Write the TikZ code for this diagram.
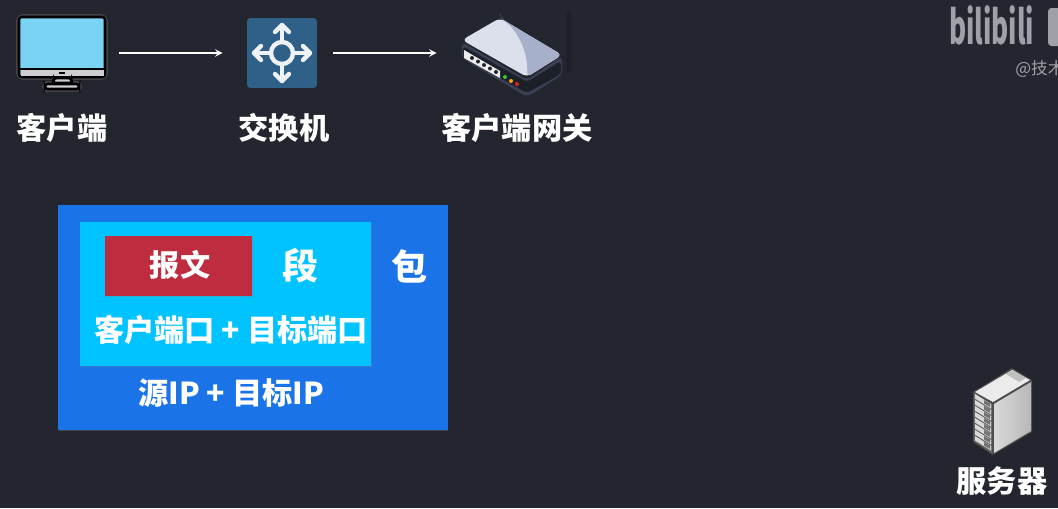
\documentclass[tikz,border=0pt]{standalone}
\usepackage{fontspec}
\setmainfont{Noto Sans CJK SC}
\usepackage{xcolor}
\usetikzlibrary{shadows}

\definecolor{bgdark}{HTML}{23252F}
\definecolor{packetblue}{HTML}{1B73E8}
\definecolor{segmentcyan}{HTML}{00C3FF}
\definecolor{messagered}{HTML}{BE2C40}
\definecolor{switchblue}{HTML}{2E6088}
\definecolor{logogray}{HTML}{A0A0A8}
\definecolor{screenblue}{HTML}{7AD3F5}
\definecolor{standgray}{HTML}{CDCDD2}
\definecolor{routerlight}{HTML}{DCE0EC}
\definecolor{routermid}{HTML}{A6B0CB}
\definecolor{routerrim}{HTML}{3B3F54}
\definecolor{routerdark}{HTML}{1E2029}

\tikzset{
  label/.style={text=white,font=\fontsize{17.2}{20}\selectfont\bfseries,inner sep=0pt},
  bigword/.style={text=white,font=\fontsize{20.5}{22}\selectfont\bfseries,inner sep=0pt},
  iconbox/.style={minimum width=#1,minimum height=1.48cm,inner sep=0pt},
  flatbox/.style={inner sep=0pt,drop shadow={shadow xshift=0.3pt,shadow yshift=-0.6pt,opacity=0.35}},
  hop/.style={->,>=stealth,line width=0.9pt,white},
  switcharrow/.style={line width=2.5pt,color=white!92!switchblue,line cap=round,line join=round},
  monitorline/.style={draw=black,line width=1.5pt,rounded corners=1.5pt},
}

\begin{document}
\begin{tikzpicture}[x=0.02cm,y=-0.02cm]

\fill[bgdark] (0,0) rectangle (1058,508);
\clip (0,0) rectangle (1058,508);

% icon nodes
\node (client) [iconbox=1.76cm] at (62,53) {};
\node (switch) [minimum size=1.4cm,inner sep=0pt,fill=switchblue,rounded corners=2pt] at (282,53) {};
\node (gateway) [iconbox=2cm] at (512,53) {};

% monitor glow
\draw[gray!55!bgdark,line width=0.6pt,rounded corners=3pt] (17,15) rectangle (107,79);
\draw[gray!55!bgdark,line width=0.6pt,rounded corners=2pt] (43,82) rectangle (81,91);
% monitor
\draw[monitorline,fill=screenblue] (19,17) rectangle (105,77);
\fill[standgray] (20.5,70) rectangle (103.5,75.5);
\draw[black,line width=1.5pt] (19,69)--(105,69);
\fill[black] (59,71.5) rectangle (65,73.5);
\draw[monitorline,fill=standgray] (54,78)--(53,83)--(72,83)--(71,78)--cycle;
\draw[monitorline,fill=standgray] (45,84) rectangle (79,89);

% switch arrows
\draw[switcharrow] (282,53) circle[radius=11];
\foreach \ang in {0,90,180,270}{
  \draw[switcharrow,rotate around={\ang:(282,53)}] (282,42)--(282,25);
  \draw[switcharrow,rotate around={\ang:(282,53)}] (275,32)--(282,25)--(289,32);
}

% router antenna
\fill[black!15!bgdark,rounded corners=2pt] (566,10) rectangle (571,72);
% router body
\fill[routerrim,rounded corners=3pt] (462,58)--(527,97)--(562,75)--(562,56)--(527,80)--(462,42)--cycle;
\fill[routerdark,rounded corners=2pt] (463,46)--(527,82)--(561,61)--(561,74)--(527,93)--(463,57)--cycle;
% router top
\fill[routerlight,rounded corners=3pt] (462,40)--(500,18)--(562,55)--(527,77)--cycle;
\fill[routermid,rounded corners=3pt] (500,18)--(562,55)--(527,77) .. controls (528,55) and (520,32) .. (500,18)--cycle;
% router ports
\fill[white!85!gray] (464,50)--(500,71)--(500,78)--(464,58)--cycle;
\foreach \k in {0,1,2,3,4}{
  \fill[bgdark] (472+\k*6,58+\k*3.5) circle[radius=2];
}
% router lights
\fill[green!60!gray] (505,77) circle[radius=2];
\fill[orange!70!yellow] (511,81) circle[radius=2];
\fill[red!70!gray] (517,84) circle[radius=2];

% connectors
\draw[hop,shorten <=13*0.02cm,shorten >=24*0.02cm] (client)--(switch);
\draw[hop,shorten <=16*0.02cm,shorten >=25*0.02cm] (switch)--(gateway);

% device labels
\node (clientname) [label] at (62,128) {客户端};
\node (switchname) [label] at (284,128) {交换机};
\node (gatewayname) [label] at (517,128) {客户端网关};
\node (servername) [label] at (1002,481) {服务器};

% server
\fill[black!70] (973,392)--(1012,368)--(1032,380)--(1032,432)--(993,455)--(973,442)--cycle;
\fill[black!8] (975,392)--(1012,370)--(1030,380)--(993,402)--cycle;
\fill[black!25] (1006,374)--(1013,370)--(1026,378)--(1019,382)--cycle;
\shade[left color=black!15,right color=black!28] (994,404)--(1031,382)--(1031,431)--(994,453)--cycle;
\fill[black!60] (974,393)--(992,404)--(992,453)--(974,441)--cycle;
\foreach \k in {0,...,7}{
  \fill[black!15] (975,394+\k*6)--(991,404+\k*6)--(991,408.5+\k*6)--(975,398.5+\k*6)--cycle;
  \fill[black!55] (984,400+\k*6)--(990,403.5+\k*6)--(990,407+\k*6)--(984,403.5+\k*6)--cycle;
}

% nested boxes
\node (packet) [flatbox,fill=packetblue,minimum width=7.8cm,minimum height=4.5cm] at (253,317.5) {};
\node (segment) [flatbox,fill=segmentcyan,minimum width=5.82cm,minimum height=2.88cm] at (225.5,294) {};
\node (message) [flatbox,fill=messagered,minimum width=2.94cm,minimum height=1.2cm] at (178.5,266) {};

\node (messagename) [label] at (180,265) {报文};
\node (segmentname) [bigword] at (301,266) {段};
\node (packetname) [bigword] at (410,266) {包};
\node (ports) [label] at (231,330) {客户端口 + 目标端口};
\node (addresses) [label] at (231,393) {源IP + 目标IP};

% watermark
\node (logo) [text=logogray,font=\fontsize{19}{20}\selectfont\bfseries,inner sep=0pt,anchor=west,xscale=0.78,yscale=1.4,transform shape] at (949,25) {bilibili};
\fill[logogray,rounded corners=2pt] (1048,8) rectangle (1062,46);
\node (handle) [text=logogray,font=\fontsize{9.5}{11}\selectfont,inner sep=0pt,anchor=west] at (1015,69) {@技术};

\end{tikzpicture}
\end{document}
